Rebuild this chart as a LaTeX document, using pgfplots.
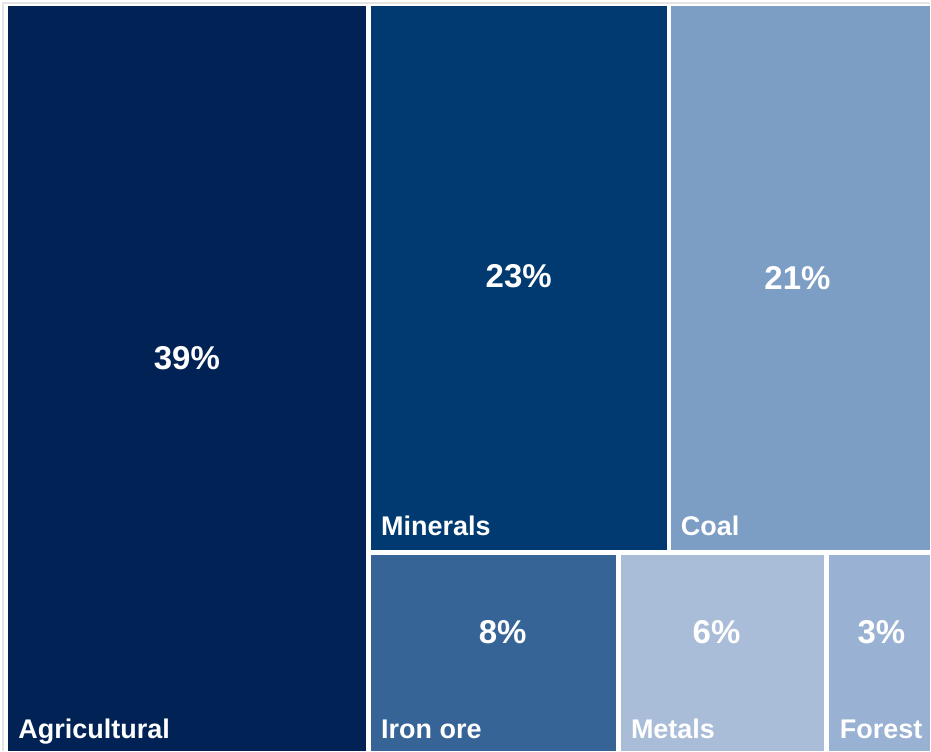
\documentclass[border=0pt]{standalone}
\usepackage{pgfplots}
\pgfplotsset{compat=1.18}
\usepackage{fontspec}
\setmainfont{Liberation Sans}
\definecolor{cAgri}{RGB}{0,34,85}
\definecolor{cMin}{RGB}{0,58,112}
\definecolor{cCoal}{RGB}{124,157,196}
\definecolor{cIron}{RGB}{54,100,150}
\definecolor{cMet}{RGB}{169,189,216}
\definecolor{cFor}{RGB}{153,177,210}
\tikzset{
  pct/.style={font=\bfseries\fontsize{16.5}{19}\selectfont, text=white, anchor=center},
  lab/.style={font=\bfseries\fontsize{13.5}{16}\selectfont, text=white, anchor=base west, inner sep=0pt},
}
\begin{document}
\begin{tikzpicture}
\begin{axis}[
  scale only axis, width=465.5pt, height=375.5pt,
  xmin=0, xmax=931, ymin=0, ymax=751, y dir=reverse,
  hide axis, clip=false,
]
% full extent (bounding box)
\addplot[draw=none, fill=white] coordinates {(0,0) (931,0) (931,751) (0,751)} -- cycle;
% faint frame
\addplot[draw={rgb,255:red,228;green,228;blue,228}, line width=0.6pt] coordinates {(3,751) (3,3) (931,3)};
% rectangles
\addplot[fill=cAgri, draw=none] coordinates {(8,6) (366,6) (366,751) (8,751)} -- cycle;
\addplot[fill=cMin, draw=none] coordinates {(371,6) (667,6) (667,550) (371,550)} -- cycle;
\addplot[fill=cCoal, draw=none] coordinates {(671,6) (931,6) (931,550) (671,550)} -- cycle;
\addplot[fill=cIron, draw=none] coordinates {(371,555) (616,555) (616,751) (371,751)} -- cycle;
\addplot[fill=cMet, draw=none] coordinates {(621,555) (825,555) (825,751) (621,751)} -- cycle;
\addplot[fill=cFor, draw=none] coordinates {(830,555) (931,555) (931,751) (830,751)} -- cycle;
% percentages
\node[pct] at (axis cs:187,358) {39\%};
\node[pct] at (axis cs:519,276) {23\%};
\node[pct] at (axis cs:798,278) {21\%};
\node[pct] at (axis cs:503,633) {8\%};
\node[pct] at (axis cs:717,633) {6\%};
\node[pct] at (axis cs:882,633) {3\%};
% labels
\node[lab] at (axis cs:18,739) {Agricultural};
\node[lab] at (axis cs:381,536) {Minerals};
\node[lab] at (axis cs:681,536) {Coal};
\node[lab] at (axis cs:381,739) {Iron ore};
\node[lab] at (axis cs:631,739) {Metals};
\node[lab] at (axis cs:840,739) {Forest};
\end{axis}
\end{tikzpicture}
\end{document}
